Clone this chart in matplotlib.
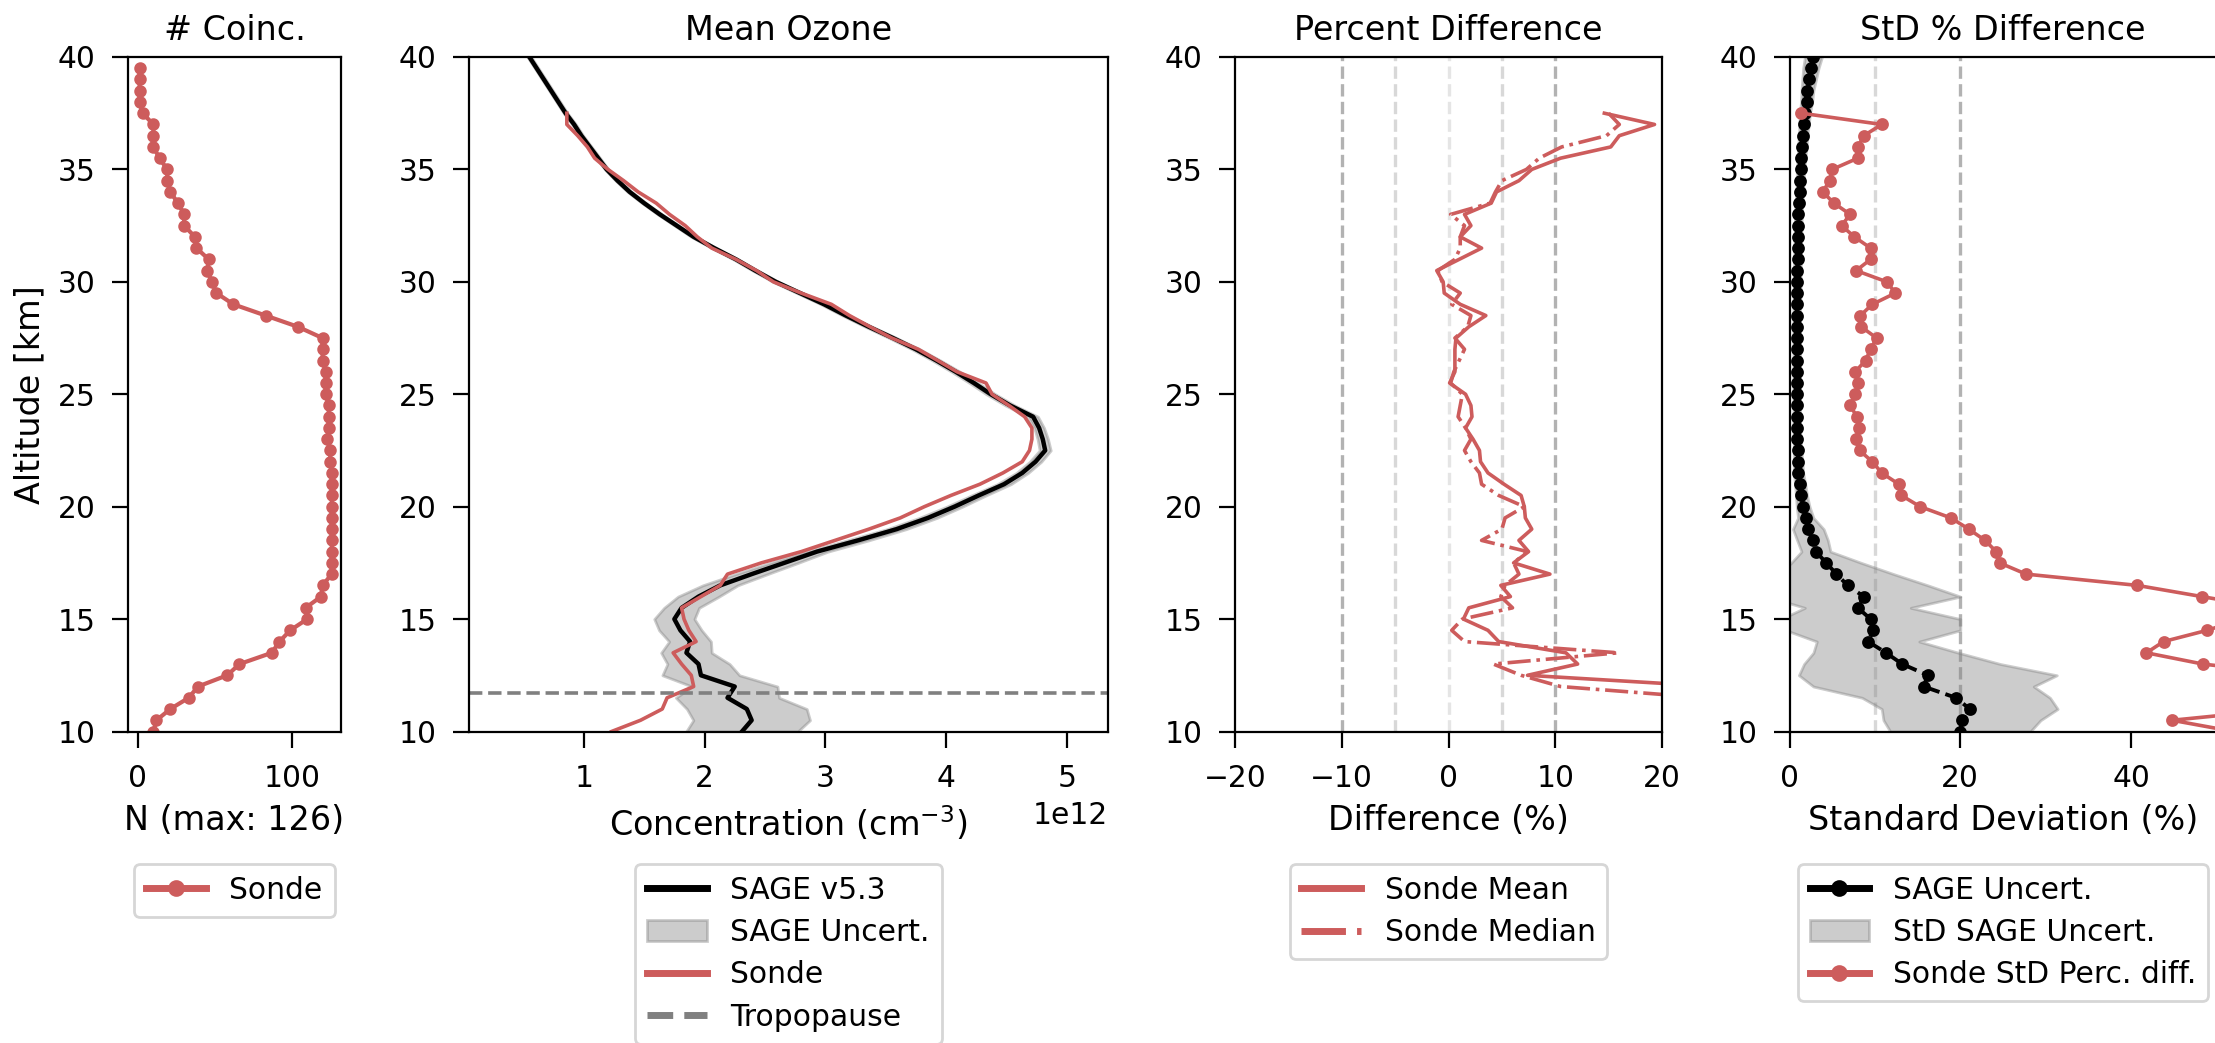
import numpy as np
import matplotlib
matplotlib.use('Agg')
import matplotlib.pyplot as plt
from matplotlib.lines import Line2D
from matplotlib.patches import Patch

nan = np.nan

# altitude grid, top (40 km) down to 10 km in 0.5 km steps
alt = np.arange(40, 9.75, -0.5)

# number of coincidences
n_coinc = [nan, 1, 1, 1, 1, 3, 10, 10, 10, 14, 19, 19, 21, 26, 30, 30, 37, 38, 46, 45,
           48, 51, 62, 83, 104, 120, 120, 120, 122, 122, 122, 124, 124, 124, 123, 125,
           125, 126, 126, 126, 126, 126, 126, 126, 126, 126, 126, 120, 119, 109, 110,
           99, 92, 87, 66, 58, 39, 33, 21, 12, 10]

# mean ozone concentration (units of 1e12 cm^-3)
sage_conc = [0.55, 0.61, 0.67, 0.73, 0.79, 0.85, 0.92, 0.98, 1.05, 1.12, 1.19, 1.28,
             1.38, 1.50, 1.63, 1.77, 1.91, 2.08, 2.26, 2.42, 2.59, 2.79, 2.99, 3.17,
             3.36, 3.56, 3.75, 3.92, 4.08, 4.23, 4.37, 4.53, 4.72, 4.77, 4.80, 4.82,
             4.74, 4.63, 4.48, 4.27, 4.07, 3.85, 3.59, 3.27, 2.93, 2.66, 2.39, 2.13,
             1.95, 1.81, 1.75, 1.80, 1.88, 1.85, 1.95, 1.97, 2.25, 2.19, 2.35, 2.39, 2.31]
sonde_conc = [nan, nan, nan, nan, nan, 0.86, 0.86, 0.95, 1.03, 1.09, 1.20, 1.33, 1.45,
              1.60, 1.71, 1.84, 1.94, 2.06, 2.26, 2.43, 2.57, 2.80, 3.05, 3.20, 3.37,
              3.55, 3.77, 3.93, 4.09, 4.33, 4.38, 4.52, 4.65, 4.71, 4.71, 4.69, 4.63,
              4.47, 4.28, 4.04, 3.82, 3.62, 3.36, 3.08, 2.80, 2.47, 2.19, 2.13, 1.97,
              1.81, 1.83, 1.87, 1.93, 1.74, 1.81, 1.89, 1.91, 1.69, 1.65, 1.47, 1.23]
tropopause = 11.7

# percent differences
diff_mean = [nan, nan, nan, nan, nan, 14.6, 19.3, 16.0, 15.2, 10.5, 7.8, 6.6, 4.5, 4.0,
             1.5, 2.1, 1.1, 3.1, 1.0, -1.1, -0.5, -0.4, 1.1, 3.5, 1.9, 0.7, 0.6, 0.6,
             0.6, 0.1, 1.6, 2.1, 2.2, 1.6, 2.3, 2.9, 3.0, 3.7, 5.2, 6.8, 7.1, 7.2, 7.8,
             6.6, 7.5, 6.1, 9.5, 4.9, 5.8, 1.9, 1.4, 3.7, 4.7, 11.0, 12.1, 7.4, 25.0,
             30.0, 44.0, 63.0, 88.0]
diff_median = [nan, nan, nan, nan, nan, 15.0, 16.0, 14.8, 10.6, 8.5, 7.3, 5.0, 4.4, 3.9,
               0.2, 1.5, 1.1, 1.1, 0.6, -1.0, -0.6, 1.1, 0.3, 2.1, 1.8, 0.6, 1.5, 1.0,
               0.5, 0.2, 1.3, 1.1, 0.9, 1.6, 2.1, 1.5, 2.1, 2.9, 3.1, 4.7, 7.1, 5.3, 5.0,
               3.1, 7.4, 6.1, 6.6, 5.3, 4.9, 6.0, 1.3, 0.3, 1.5, 15.9, 4.2, 6.8, 10.5,
               24.0, 40.0, 58.0, 80.0]

# standard deviations (%)
sage_unc = [2.8, 2.5, 2.3, 2.1, 2.0, 1.8, 1.7, 1.6, 1.5, 1.4, 1.3, 1.25, 1.2, 1.1, 1.05,
            1.0, 1.0, 0.95, 0.95, 0.9, 0.9, 0.9, 0.85, 0.85, 0.85, 0.85, 0.85, 0.85,
            0.85, 0.85, 0.85, 0.85, 0.85, 0.85, 0.9, 0.95, 1.0, 1.05, 1.25, 1.4, 1.6,
            1.9, 2.2, 2.7, 3.1, 4.3, 5.5, 6.8, 8.7, 8.0, 9.5, 9.8, 9.2, 11.3, 13.2,
            16.2, 15.7, 19.5, 21.1, 20.2, 20.0]
sage_unc_std = [1.0, 0.9, 0.8, 0.7, 0.65, 0.6, 0.55, 0.5, 0.5, 0.45, 0.45, 0.4, 0.4,
                0.4, 0.4, 0.4, 0.4, 0.4, 0.4, 0.4, 0.4, 0.4, 0.4, 0.4, 0.4, 0.4, 0.4,
                0.4, 0.4, 0.4, 0.4, 0.4, 0.4, 0.4, 0.4, 0.45, 0.5, 0.55, 0.6, 0.65,
                0.75, 0.9, 1.8, 1.8, 1.7, 4.1, 6.7, 9.4, 11.3, 6.2, 10.5, 10.2, 6.0,
                8.5, 11.5, 15.1, 12.9, 11.0, 10.3, 9.2, 8.2]
sonde_std = [nan, nan, nan, nan, nan, 1.4, 10.8, 8.7, 8.0, 8.0, 5.0, 4.7, 3.9, 5.2, 7.1,
             6.1, 7.6, 9.5, 9.5, 7.8, 11.4, 12.4, 9.7, 8.3, 8.4, 10.2, 9.5, 8.9, 7.7,
             8.0, 7.7, 7.1, 7.9, 8.1, 7.8, 8.2, 9.7, 10.8, 12.8, 13.1, 15.3, 18.9, 21.0,
             22.9, 24.2, 24.6, 27.7, 40.7, 48.3, 56.0, 53.0, 48.9, 43.8, 41.8, 48.4,
             60.0, 65.0, 62.0, 58.0, 44.8, 52.0]

red = 'indianred'
sage = np.array(sage_conc) * 1e12
sonde = np.array(sonde_conc) * 1e12
unc = np.array(sage_unc)
unc_std = np.array(sage_unc_std)

plt.rcParams.update({
    'font.size': 10.7,
    'axes.titlesize': 12,
    'axes.labelsize': 12,
    'xtick.labelsize': 10.7, 'ytick.labelsize': 10.7,
    'legend.fontsize': 10.7,
    'legend.labelspacing': 0.45,
    'xtick.major.size': 5.6, 'ytick.major.size': 5.6,
    'xtick.major.pad': 6, 'ytick.major.pad': 6,
    'axes.linewidth': 0.8,
})

fig = plt.figure(figsize=(11.075, 5.215), dpi=200)
W, H = 2215, 1043
bottom, top = 731.5, 57
lefts = [128, 469, 1235, 1789.5]
widths = [213, 639, 427, 427]
axs = [fig.add_axes([l / W, 1 - bottom / H, w / W, (bottom - top) / H])
       for l, w in zip(lefts, widths)]

leg_kw = dict(loc='upper center', bbox_to_anchor=(0.5, -0.174))

# coincidences
ax = axs[0]
ax.plot(n_coinc, alt, '-o', color=red, lw=1.5, ms=3.5)
ax.set_xlim(-6.5, 132)
ax.set_xticks([0, 100])
ax.set_title('# Coinc.')
ax.set_xlabel('N (max: %d)' % np.nanmax(n_coinc))
ax.set_ylabel('Altitude [km]')
ax.legend(handles=[Line2D([], [], color=red, lw=2.5, marker='o', ms=5, label='Sonde')], **leg_kw)

# mean ozone
ax = axs[1]
ax.fill_betweenx(alt, sage * (1 - unc / 100), sage * (1 + unc / 100), color='gray', alpha=0.4)
ax.plot(sage, alt, color='k', lw=1.6)
ax.plot(sonde, alt, color=red, lw=1.3)
ax.axhline(tropopause, color='gray', ls='--', lw=1.3)
ax.set_xlim(0.05e12, 5.34e12)
ax.set_xticks(np.arange(1, 6) * 1e12)
ax.set_title('Mean Ozone')
ax.set_xlabel('Concentration (cm$^{-3}$)')
ax.legend(handles=[Line2D([], [], color='k', lw=2.5, label='SAGE v5.3'),
                   Patch(facecolor='gray', edgecolor='gray', alpha=0.4, label='SAGE Uncert.'),
                   Line2D([], [], color=red, lw=2.5, label='Sonde'),
                   Line2D([], [], color='gray', lw=2.5, ls='--', label='Tropopause')], **leg_kw)

# percent difference
ax = axs[2]
for v, a in [(-10, 0.6), (-5, 0.3), (0, 0.2), (5, 0.3), (10, 0.6)]:
    ax.axvline(v, color='gray', ls='--', lw=1.2, alpha=a)
ax.plot(diff_mean, alt, color=red, lw=1.3)
ax.plot(diff_median, alt, color=red, lw=1.3, ls='-.')
ax.set_xlim(-20, 20)
ax.set_xticks([-20, -10, 0, 10, 20])
ax.set_title('Percent Difference')
ax.set_xlabel('Difference (%)')
ax.legend(handles=[Line2D([], [], color=red, lw=2.5, label='Sonde Mean'),
                   Line2D([], [], color=red, lw=2.5, ls='-.', label='Sonde Median')], **leg_kw)

# std of percent difference
ax = axs[3]
for v, a in [(10, 0.3), (20, 0.6)]:
    ax.axvline(v, color='gray', ls='--', lw=1.2, alpha=a)
ax.fill_betweenx(alt, unc - unc_std, unc + unc_std, color='gray', alpha=0.4)
ax.plot(unc, alt, '--o', color='k', lw=1.4, ms=3.6)
ax.plot(sonde_std, alt, '-o', color=red, lw=1.3, ms=3.6)
ax.set_xlim(0, 50)
ax.set_xticks([0, 20, 40])
ax.set_title('StD % Difference')
ax.set_xlabel('Standard Deviation (%)')
ax.legend(handles=[Line2D([], [], color='k', lw=2.5, marker='o', ms=5, label='SAGE Uncert.'),
                   Patch(facecolor='gray', edgecolor='gray', alpha=0.4, label='StD SAGE Uncert.'),
                   Line2D([], [], color=red, lw=2.5, marker='o', ms=5,
                          label='Sonde StD Perc. diff.')], **leg_kw)

for ax in axs:
    ax.set_ylim(10, 40)
    ax.set_yticks(range(10, 41, 5))

fig.savefig('out.png', dpi=200)
